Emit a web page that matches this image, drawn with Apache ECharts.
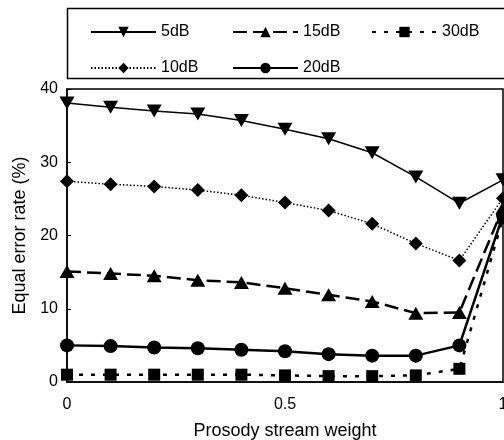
<!DOCTYPE html>
<html>
<head>
<meta charset="utf-8">
<script src="https://cdn.jsdelivr.net/npm/echarts@6/dist/echarts.min.js"></script>
<style>
  html, body { margin: 0; padding: 0; background: #fff; }
  #chart { width: 504px; height: 440px; }
</style>
</head>
<body>
<div id="chart"></div>
<script>
  // prosody stream weight 0 .. 1
  const weights = [0, 0.1, 0.2, 0.3, 0.4, 0.5, 0.6, 0.7, 0.8, 0.9, 1.0];

  // equal error rate (%) per SNR
  const eer5dB  = [38.1, 37.5, 37.0, 36.6, 35.7, 34.5, 33.2, 31.3, 28.0, 24.4, 27.6];
  const eer10dB = [27.4, 27.0, 26.7, 26.2, 25.5, 24.5, 23.4, 21.6, 18.9, 16.6, 25.1];
  const eer15dB = [15.1, 14.8, 14.5, 13.9, 13.6, 12.8, 11.9, 11.0, 9.4, 9.5, 23.8];
  const eer20dB = [5.0, 4.9, 4.7, 4.6, 4.4, 4.2, 3.8, 3.6, 3.6, 5.0, 22.8];
  const eer30dB = [1.0, 1.0, 1.0, 1.0, 1.0, 0.9, 0.8, 0.8, 0.9, 1.8, 22.4];

  const xTicks = [0, 0.5, 1];
  const yTicks = [0, 10, 20, 30, 40];

  const chart = echarts.init(document.getElementById('chart'));

  const pairs = (ys) => weights.map((w, i) => [w, ys[i]]);
  const font = 'Liberation Sans, Arial, sans-serif';

  const legendAt = (name, left, top) => ({
    data: [name],
    left: left,
    top: top,
    itemWidth: 65,
    itemHeight: 13,
    itemGap: 0,
    textStyle: { fontSize: 16, color: '#000', fontFamily: font },
    selectedMode: false
  });

  const option = {
    animation: false,
    graphic: [{
      type: 'rect',
      shape: { x: 67.5, y: 8.5, width: 460, height: 70 },
      style: { fill: 'none', stroke: '#000', lineWidth: 1.5 }
    }],
    legend: [
      legendAt('5dB', 85, 19),
      legendAt('15dB', 227, 19),
      legendAt('30dB', 366, 19),
      legendAt('10dB', 85, 55),
      legendAt('20dB', 227, 55)
    ],
    grid: {
      left: 67, top: 89, right: 1, bottom: 58,
      containLabel: false,
      outerBoundsMode: 'none',
      show: true, borderColor: '#000', borderWidth: 1.5
    },
    xAxis: {
      type: 'value',
      min: 0, max: 1, interval: 0.5,
      name: 'Prosody stream weight',
      nameLocation: 'middle',
      nameGap: 40,
      nameTextStyle: { fontSize: 18, color: '#000', fontFamily: font },
      axisLine: { lineStyle: { color: '#000', width: 1.5 } },
      axisTick: { show: false },
      axisLabel: {
        fontSize: 16, color: '#000', fontFamily: font, margin: 15,
        formatter: (v) => xTicks.includes(v) ? String(v) : ''
      },
      splitLine: { show: false }
    },
    yAxis: {
      type: 'value',
      min: 0, max: 40, interval: 10,
      name: 'Equal error rate (%)',
      nameLocation: 'middle',
      nameGap: 38,
      nameTextStyle: { fontSize: 18, color: '#000', fontFamily: font },
      axisLine: { lineStyle: { color: '#000', width: 1.5 } },
      axisTick: { inside: true, length: 4, lineStyle: { color: '#000' } },
      axisLabel: {
        fontSize: 16, color: '#000', fontFamily: font, margin: 9,
        formatter: (v) => yTicks.includes(v) ? String(v) : ''
      },
      splitLine: { show: false }
    },
    series: [
      {
        name: '5dB', type: 'line', data: pairs(eer5dB),
        symbol: 'triangle', symbolRotate: 180, symbolSize: [15, 13],
        lineStyle: { color: '#000', width: 1.5, type: 'solid' },
        itemStyle: { color: '#000' }
      },
      {
        name: '10dB', type: 'line', data: pairs(eer10dB),
        symbol: 'diamond', symbolSize: [14, 14],
        lineStyle: { color: '#000', width: 1.5, type: [1.5, 2] },
        itemStyle: { color: '#000' }
      },
      {
        name: '15dB', type: 'line', data: pairs(eer15dB),
        symbol: 'triangle', symbolSize: [15, 13],
        lineStyle: { color: '#000', width: 2.5, type: [14, 6] },
        itemStyle: { color: '#000' }
      },
      {
        name: '20dB', type: 'line', data: pairs(eer20dB),
        symbol: 'circle', symbolSize: 14,
        lineStyle: { color: '#000', width: 2.5, type: 'solid' },
        itemStyle: { color: '#000' }
      },
      {
        name: '30dB', type: 'line', data: pairs(eer30dB),
        symbol: 'rect', symbolSize: 12,
        lineStyle: { color: '#000', width: 2.5, type: [4, 8] },
        itemStyle: { color: '#000' }
      }
    ]
  };

  chart.setOption(option);
</script>
</body>
</html>
